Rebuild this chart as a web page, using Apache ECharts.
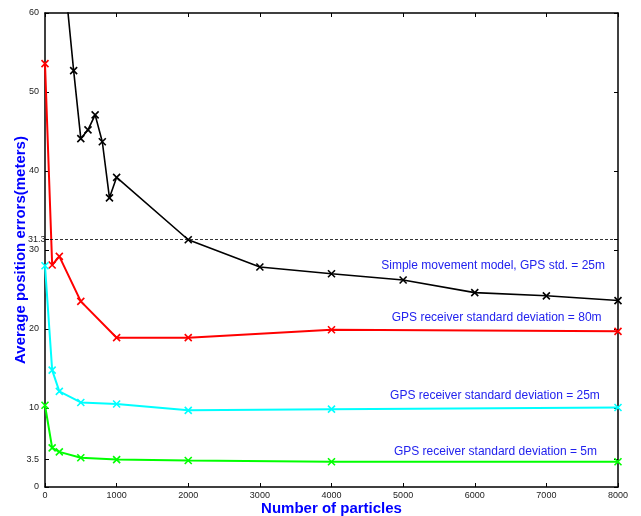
<!DOCTYPE html>
<html>
<head>
<meta charset="utf-8">
<script src="https://cdn.jsdelivr.net/npm/echarts@6/dist/echarts.min.js"></script>
<style>
  html, body { margin: 0; padding: 0; background: #fff; }
  #main { width: 641px; height: 516px; }
</style>
</head>
<body>
<div id="main"></div>
<script>
// particle counts
var simpleX = [300, 400, 500, 600, 700, 800, 900, 1000, 2000, 3000, 4000, 5000, 6000, 7000, 8000];
var simpleY = [62, 52.7, 44.1, 45.2, 47.1, 43.7, 36.6, 39.2, 31.3, 27.85, 27.0, 26.2, 24.6, 24.2, 23.6];
var gpsX = [0, 100, 200, 500, 1000, 2000, 4000, 8000];
var std80 = [53.6, 28.1, 29.2, 23.5, 18.9, 18.9, 19.9, 19.7];
var std25 = [28.0, 14.8, 12.1, 10.7, 10.5, 9.7, 9.85, 10.06];
var std5 = [10.35, 4.95, 4.45, 3.7, 3.47, 3.35, 3.2, 3.2];
var yTicks = [0, 3.5, 10, 20, 30, 31.3, 40, 50, 60];
var refLine = 31.3;
var labels = [
  'Simple movement model, GPS std. = 25m',
  'GPS receiver standard deviation = 80m',
  'GPS receiver standard deviation = 25m',
  'GPS receiver standard deviation = 5m'
];
var labelX = [6257, 6306, 6282, 6289];
var labelY = [27.97, 21.38, 11.62, 4.44];

function pairs(xs, ys) {
  return xs.map(function (x, i) { return [x, ys[i]]; });
}

var cross = 'path://M0,0L10,10M10,0L0,10';
var font = 'Liberation Sans, Arial, sans-serif';

function makeSeries(name, xs, ys, color, width, idx) {
  return {
    name: name,
    type: 'line',
    data: pairs(xs, ys),
    symbol: cross,
    symbolSize: 7,
    showSymbol: true,
    lineStyle: { color: color, width: width },
    itemStyle: { color: color, borderColor: color, borderWidth: 1.6 },
    markPoint: {
      symbol: 'circle',
      symbolSize: 0,
      silent: true,
      label: {
        show: true,
        position: 'inside',
        formatter: '{b}',
        color: '#2222ee',
        fontFamily: font,
        fontSize: 12
      },
      data: [{ name: labels[idx], coord: [labelX[idx], labelY[idx]] }]
    }
  };
}

var chart = echarts.init(document.getElementById('main'));
var simple = makeSeries('simple', simpleX, simpleY, '#000000', 1.6, 0);
simple.markLine = {
  silent: true,
  symbol: 'none',
  label: { show: false },
  lineStyle: { color: '#000', type: [3, 2], width: 0.8 },
  data: [{ yAxis: refLine }]
};

var option = {
  animation: false,
  backgroundColor: '#fff',
  grid: { left: 45, right: 23, top: 13, bottom: 29, show: false, containLabel: false, outerBoundsMode: 'none' },
  xAxis: [{
    type: 'value', min: 0, max: 8000, interval: 1000,
    name: 'Number of particles', nameLocation: 'middle', nameGap: 14, nameMoveOverlap: false,
    nameTextStyle: { color: '#0000ff', fontWeight: 'bold', fontSize: 15, fontFamily: font },
    axisLine: { onZero: false, lineStyle: { color: '#000', width: 1.5 } },
    axisTick: { inside: true, length: 4, lineStyle: { color: '#000' } },
    axisLabel: { color: '#222', fontSize: 9, fontFamily: font, margin: 4, formatter: function (v) { return String(v); } },
    splitLine: { show: false }
  }, {
    type: 'value', min: 0, max: 8000, interval: 1000, position: 'top',
    axisLine: { onZero: false, lineStyle: { color: '#000', width: 1.5 } },
    axisTick: { inside: true, length: 4, lineStyle: { color: '#000' } },
    axisLabel: { show: false },
    splitLine: { show: false }
  }],
  yAxis: [{
    type: 'value', min: 0, max: 60,
    name: 'Average position errors(meters)', nameLocation: 'middle', nameGap: 17, nameMoveOverlap: false,
    nameTextStyle: { color: '#0000ff', fontWeight: 'bold', fontSize: 15, fontFamily: font },
    axisLine: { onZero: false, lineStyle: { color: '#000', width: 1.5 } },
    axisTick: { inside: true, length: 4, customValues: yTicks, lineStyle: { color: '#000' } },
    axisLabel: {
      color: '#222', fontSize: 9, fontFamily: font, margin: 6, customValues: yTicks, hideOverlap: false,
      formatter: function (v) { return v === refLine ? '{s|' + v + '}' : String(v); },
      rich: { s: { width: 11, align: 'left', color: '#222', fontSize: 9, fontFamily: font } }
    },
    splitLine: { show: false }
  }, {
    type: 'value', min: 0, max: 60, position: 'right',
    axisLine: { show: true, onZero: false, lineStyle: { color: '#000', width: 1.5 } },
    axisTick: { show: true, inside: true, length: 4, customValues: yTicks, lineStyle: { color: '#000' } },
    axisLabel: { show: false },
    splitLine: { show: false }
  }],
  series: [
    simple,
    makeSeries('80m', gpsX, std80, '#ff0000', 2, 1),
    makeSeries('25m', gpsX, std25, '#00ffff', 2, 2),
    makeSeries('5m', gpsX, std5, '#00ff00', 2, 3)
  ]
};
chart.setOption(option);
</script>
</body>
</html>
